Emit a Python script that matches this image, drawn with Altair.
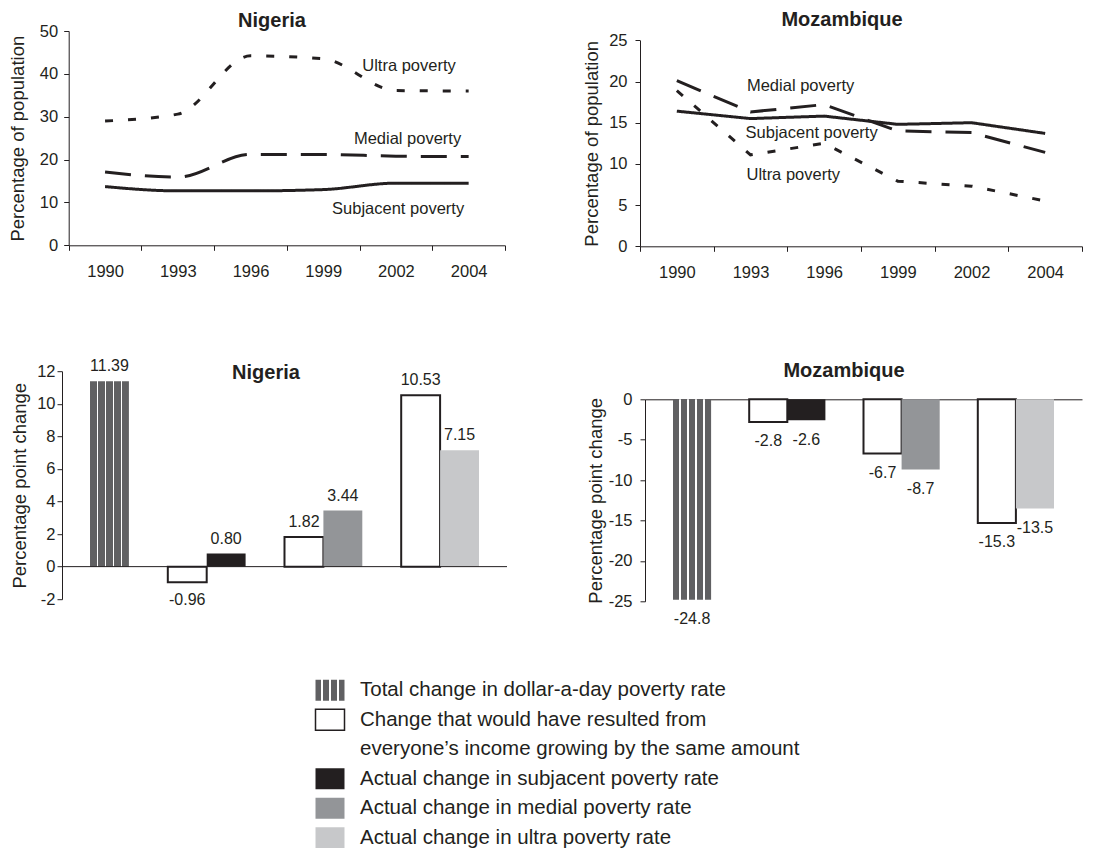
import altair as alt
import pandas as pd

INK = "#231f20"
FONT = "Liberation Sans"
MINUS = "\u2212"

# ---------------- data ----------------
years = ["1990", "1993", "1996", "1999", "2002", "2004"]
poverty_lines = ["Ultra poverty", "Medial poverty", "Subjacent poverty"]

nga_ultra = [29.0, 30.6, 44.2, 43.5, 36.1, 36.0]
nga_medial = [17.1, 15.9, 21.2, 21.2, 20.8, 20.7]
nga_subjacent = [13.7, 12.7, 12.7, 13.0, 14.5, 14.5]

moz_ultra = [18.9, 11.1, 12.5, 7.9, 7.3, 5.5]
moz_medial = [20.1, 16.3, 17.2, 14.0, 13.8, 11.4]
moz_subjacent = [16.4, 15.5, 15.8, 14.8, 15.0, 13.7]

# line-name annotations: position in year-index units (0..6) and percent
nga_note_text = ["Ultra poverty", "Medial poverty", "Subjacent poverty"]
nga_note_pos = [4.68, 4.66, 4.53]
nga_note_val = [41.8, 24.8, 8.4]
moz_note_text = ["Medial poverty", "Subjacent poverty", "Ultra poverty"]
moz_note_pos = [2.18, 2.33, 2.08]
moz_note_val = [19.4, 13.7, 8.7]

groups = ["Total", "Subjacent", "Medial", "Ultra"]
bar_kinds = ["Total", "Same", "Subjacent", "Medial", "Ultra"]
bar_colors = ["#606062", "#ffffff", INK, "#939598", "#c7c8ca"]
nga_same = [None, -0.96, 1.82, 10.53]
nga_actual = [11.39, 0.80, 3.44, 7.15]
moz_same = [None, -2.8, -6.7, -15.3]
moz_actual = [-24.8, -2.6, -8.7, -13.5]

legend_text = [
    "Total change in dollar-a-day poverty rate",
    "Change that would have resulted from",
    "everyone\u2019s income growing by the same amount",
    "Actual change in subjacent poverty rate",
    "Actual change in medial poverty rate",
    "Actual change in ultra poverty rate",
]
legend_key = ["Total", "Same", "", "Subjacent", "Medial", "Ultra"]


# ---------------- helpers ----------------
def stripe_fill(n, gap):
    dark = "#606062"
    w = (1 - gap * (n - 1)) / n
    stops = []
    pos = 0.0
    for i in range(n):
        a = round(min(1.0, pos), 4)
        b = round(min(1.0, pos + w), 4)
        stops += [alt.GradientStop(offset=a, color=dark), alt.GradientStop(offset=b, color=dark)]
        pos += w
        if i < n - 1:
            c = round(min(1.0, pos + gap), 4)
            stops += [alt.GradientStop(offset=b, color="#ffffff"),
                      alt.GradientStop(offset=c, color="#ffffff")]
            pos += gap
    return alt.LinearGradient(gradient="linear", stops=stops, x1=0, x2=1, y1=0, y2=0)


BAR_STRIPES = stripe_fill(5, 0.04)
KEY_STRIPES = stripe_fill(4, 0.07)
KEY_SHAPE = "M-1,-0.724H1V0.724H-1Z"
HYPHEN_EXPR = "replace(datum.label, '%s', '-')" % MINUS
NO_FRAME = alt.ViewBackground(stroke="transparent", strokeWidth=0)


def y_axis(title, values, label_pad, title_pad, offset):
    return alt.Axis(title=title, values=values, grid=False, domainColor=INK, tickColor=INK,
                    tickSize=5, labelFont=FONT, labelFontSize=16.5, labelColor=INK,
                    labelPadding=label_pad, labelOverlap=False, labelExpr=HYPHEN_EXPR,
                    titleFont=FONT, titleFontSize=18.5, titleFontWeight="normal",
                    titleColor=INK, titlePadding=title_pad, offset=offset)


def panel_title(text, offset, dx):
    return alt.TitleParams(text=text, font=FONT, fontSize=20, fontWeight="bold", color=INK,
                           anchor="middle", frame="group", offset=offset, dx=dx)


def line_panel(title, series, notes, ymax, ystep, interp, w, h, x0, y0,
               t_off, t_dx, lpad, tpad):
    # x0 / y0: inset of the axes inside the panel box (axis drawn at x0, top of scale at y0)
    rows = []
    for name, vals in zip(poverty_lines, series):
        for yr, v in zip(years, vals):
            rows.append({"year": yr, "pct": v, "line": name})
    df = pd.DataFrame(rows)
    yrange = [h, y0]
    lines = alt.Chart(df).mark_line(color=INK, strokeWidth=3, interpolate=interp).encode(
        x=alt.X("year:N", sort=years,
                scale=alt.Scale(type="band", domain=years, paddingInner=0, paddingOuter=0,
                                range=[x0, w]),
                axis=alt.Axis(title=None, labelAngle=0, tickBand="extent", tickSize=5,
                              labelPadding=13, grid=False, domainColor=INK, tickColor=INK,
                              labelFont=FONT, labelFontSize=16.5, labelColor=INK)),
        y=alt.Y("pct:Q", scale=alt.Scale(domain=[0, ymax], nice=False, range=yrange),
                axis=y_axis("Percentage of population", list(range(0, ymax + 1, ystep)),
                            lpad, tpad, -x0)),
        strokeDash=alt.StrokeDash("line:N",
                                  scale=alt.Scale(domain=poverty_lines,
                                                  range=[[8, 15], [26, 14], [1, 0]]),
                                  legend=None),
    )
    ndf = pd.DataFrame({"text": notes[0], "pos": notes[1], "pct": notes[2]})
    labels = alt.Chart(ndf).mark_text(font=FONT, fontSize=16.5, color=INK, baseline="middle").encode(
        x=alt.X("pos:Q", scale=alt.Scale(domain=[0, 6], nice=False, zero=False, range=[x0, w]),
                axis=None),
        y=alt.Y("pct:Q", scale=alt.Scale(domain=[0, ymax], nice=False, range=yrange), axis=None),
        text="text:N",
    )
    return alt.layer(lines, labels).resolve_scale(x="independent", y="independent").properties(
        width=w, height=h, title=panel_title(title, t_off, t_dx), view=NO_FRAME)


def bar_panel(title, same, actual, ydom, yvals, fmt, w, h, x0, pad_outer, t_off, t_dx,
              lpad, tpad, neg_dy, zero_on_top):
    rows, slots = [], []
    for i, g in enumerate(groups):
        if i > 0:
            slots.append("gap%d" % i)
        if same[i] is not None:
            slots.append(g + " same")
            rows.append({"slot": g + " same", "kind": "Same", "value": same[i]})
        slots.append(g + " actual")
        rows.append({"slot": g + " actual", "kind": g, "value": actual[i]})
    df = pd.DataFrame(rows)
    xscale = alt.Scale(domain=slots, paddingInner=0, paddingOuter=pad_outer, range=[x0, w])
    if zero_on_top:
        # the zero line sits on the top edge: draw it as the axis line of a top x-axis
        xaxis = alt.Axis(orient="top", title=None, labels=False, ticks=False, domain=True,
                         domainColor=INK, grid=False)
    else:
        xaxis = None
    x = alt.X("slot:N", scale=xscale, axis=xaxis)
    y = alt.Y("value:Q", scale=alt.Scale(domain=ydom, nice=False, zero=False),
              axis=y_axis("Percentage point change", yvals, lpad, tpad, -x0))
    base = alt.Chart(df)
    bars = base.transform_filter("datum.kind !== 'Total'").mark_bar(stroke=INK).encode(
        x=x, y=y,
        fill=alt.Fill("kind:N", scale=alt.Scale(domain=bar_kinds, range=bar_colors), legend=None),
        strokeWidth=alt.condition("datum.kind === 'Same'", alt.value(2), alt.value(0)),
    )
    striped = base.transform_filter("datum.kind === 'Total'").mark_bar(fill=BAR_STRIPES).encode(
        x=x, y=y)
    lab_expr = "replace(format(datum.value, '%s'), '%s', '-')" % (fmt, MINUS)
    pos_lab = base.transform_filter("datum.value >= 0").transform_calculate(lab=lab_expr).mark_text(
        font=FONT, fontSize=16, color=INK, baseline="middle", dy=-15).encode(
        x=x, y=y, text="lab:N")
    neg_lab = base.transform_filter("datum.value < 0").transform_calculate(lab=lab_expr).mark_text(
        font=FONT, fontSize=16, color=INK, baseline="middle", dy=neg_dy).encode(
        x=x, y=y, text="lab:N")
    layers = [bars, striped]
    if not zero_on_top:
        zero = alt.Chart(pd.DataFrame({"value": [0]})).mark_rule(color=INK, strokeWidth=1).encode(y=y)
        layers.append(zero)
    layers += [pos_lab, neg_lab]
    return alt.layer(*layers).properties(
        width=w, height=h, title=panel_title(title, t_off, t_dx), view=NO_FRAME)


# ---------------- panels ----------------
nga_lines = line_panel("Nigeria", [nga_ultra, nga_medial, nga_subjacent],
                       (nga_note_text, nga_note_pos, nga_note_val), 50, 10, "monotone",
                       443, 214.3, 6.7, 0, -7.5, -11.5, 6, 11.7)
moz_lines = line_panel("Mozambique", [moz_ultra, moz_medial, moz_subjacent],
                       (moz_note_text, moz_note_pos, moz_note_val), 25, 5, "linear",
                       442, 215.3, 0, 9.3, 0.7, -19, 8, 7)
nga_bars = bar_panel("Nigeria", nga_same, nga_actual, [-2, 12], list(range(-2, 13, 2)), ".2f",
                     445, 228, 0, 0.72, -25, -18.5, 2, 7.5, 18, False)
moz_bars = bar_panel("Mozambique", moz_same, moz_actual, [-25, 0], list(range(-25, 1, 5)), ".1f",
                     442, 202, 5, 0.735, 10.3, -17, 8, 3, 19.5, True)

# ---------------- legend (built from marks) ----------------
ldf = pd.DataFrame({"entry": legend_text, "kind": legend_key})
ly = alt.Y("entry:N", sort=legend_text,
           scale=alt.Scale(domain=legend_text, paddingInner=0, paddingOuter=0), axis=None)
key_text = alt.Chart(ldf).mark_text(align="left", baseline="middle", font=FONT, fontSize=20.5,
                                    color=INK).encode(x=alt.value(298), y=ly, text="entry:N")
key_sym = alt.Chart(ldf).transform_filter("datum.kind !== '' && datum.kind !== 'Total'").mark_point(
    shape=KEY_SHAPE, size=841, filled=True, opacity=1, stroke=INK).encode(
    x=alt.value(268), y=ly,
    fill=alt.Fill("kind:N", scale=alt.Scale(domain=bar_kinds, range=bar_colors), legend=None),
    strokeWidth=alt.condition("datum.kind === 'Same'", alt.value(1.5), alt.value(0)))
key_striped = alt.Chart(ldf).transform_filter("datum.kind === 'Total'").mark_point(
    shape=KEY_SHAPE, size=841, filled=True, opacity=1, fill=KEY_STRIPES, strokeWidth=0).encode(
    x=alt.value(268), y=ly)
legend = alt.layer(key_sym, key_striped, key_text).properties(width=760, height=177, view=NO_FRAME)

# ---------------- layout ----------------
left_col = alt.concat(nga_lines, nga_bars, columns=1, spacing=77.2)
right_col = alt.concat(moz_lines, moz_bars, columns=1, spacing=79.3)
panels = alt.concat(left_col, right_col, columns=2, spacing=74)
chart = alt.concat(panels, legend, columns=1, spacing=47.5).properties(
    padding={"left": 0, "top": 2, "right": 0, "bottom": 0}).configure_view(
    stroke="transparent", strokeWidth=0).configure_axis(labelOverlap=False).configure(font=FONT)

chart.save("out.html", embed_options={"renderer": "svg", "actions": False})
